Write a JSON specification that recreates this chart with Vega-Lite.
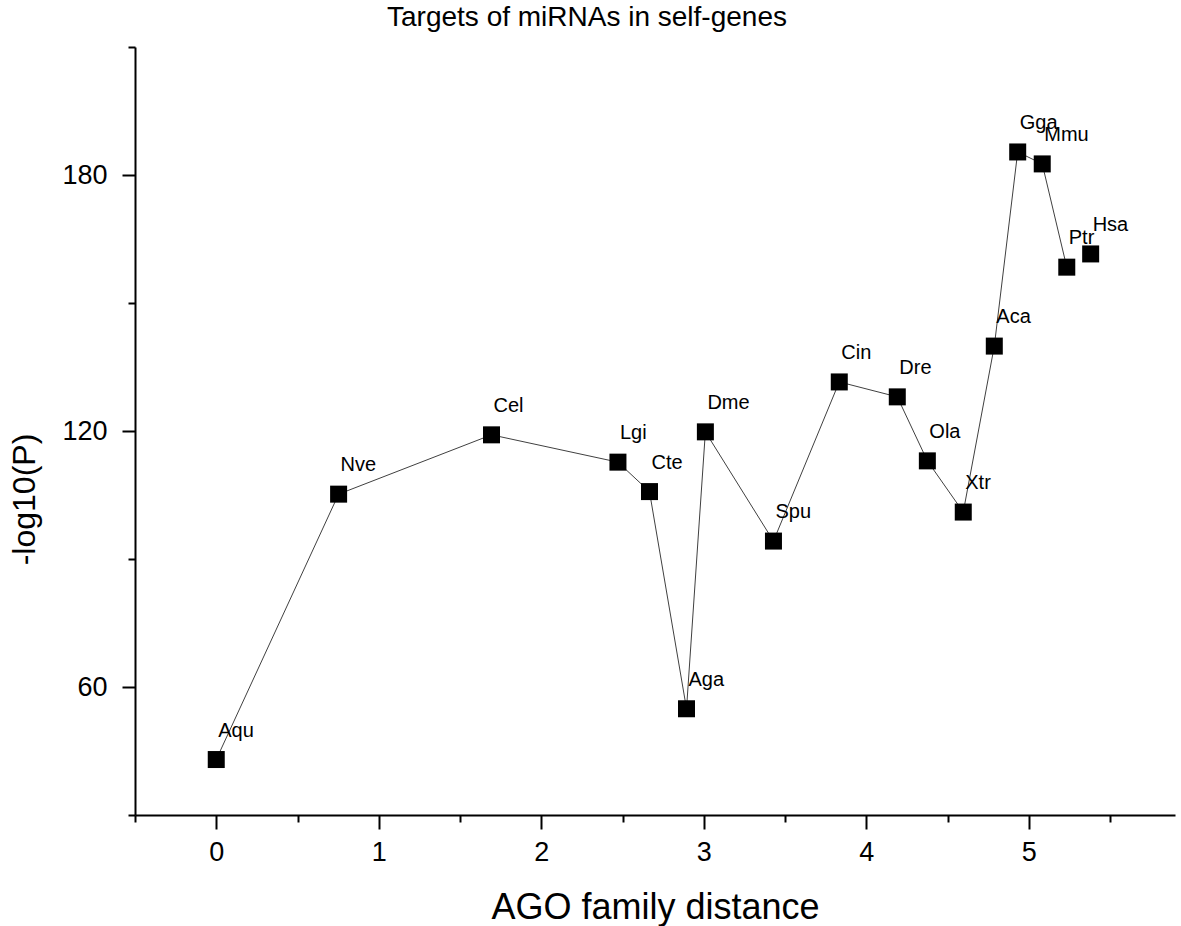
{
  "$schema": "https://vega.github.io/schema/vega-lite/v6.json",
  "width": 1040,
  "height": 768,
  "autosize": {"type": "none"},
  "padding": {"left": 135, "top": 47, "right": 6, "bottom": 111},
  "background": "white",
  "title": {
    "text": "Targets of miRNAs in self-genes",
    "font": "Liberation Sans",
    "fontSize": 28,
    "fontWeight": "normal",
    "color": "black",
    "anchor": "middle",
    "dx": -68,
    "dy": 28,
    "baseline": "alphabetic",
    "offset": 20
  },
  "config": {
    "view": {"stroke": null},
    "font": "Liberation Sans"
  },
  "data": {
    "values": [
      {"species": "Aqu", "distance": 0.0, "logp": 43.0},
      {"species": "Nve", "distance": 0.753, "logp": 105.2},
      {"species": "Cel", "distance": 1.694, "logp": 119.1},
      {"species": "Lgi", "distance": 2.472, "logp": 112.7},
      {"species": "Cte", "distance": 2.666, "logp": 105.8},
      {"species": "Aga", "distance": 2.894, "logp": 54.9},
      {"species": "Dme", "distance": 3.010, "logp": 119.8},
      {"species": "Spu", "distance": 3.429, "logp": 94.2},
      {"species": "Cin", "distance": 3.834, "logp": 131.5},
      {"species": "Dre", "distance": 4.191, "logp": 128.0},
      {"species": "Ola", "distance": 4.376, "logp": 113.0},
      {"species": "Xtr", "distance": 4.597, "logp": 101.0},
      {"species": "Aca", "distance": 4.788, "logp": 139.9},
      {"species": "Gga", "distance": 4.932, "logp": 185.4},
      {"species": "Mmu", "distance": 5.083, "logp": 182.6},
      {"species": "Ptr", "distance": 5.234, "logp": 158.4},
      {"species": "Hsa", "distance": 5.381, "logp": 161.5}
    ]
  },
  "layer": [
    {
      "transform": [{"filter": "datum.species != 'Hsa'"}],
      "mark": {"type": "line", "color": "#404040", "strokeWidth": 1},
      "encoding": {
        "x": {
          "field": "distance", "type": "quantitative",
          "scale": {"domain": [-0.5, 5.9], "nice": false, "zero": false},
          "axis": {
            "title": "AGO family distance",
            "values": [0, 1, 2, 3, 4, 5],
            "format": "d",
            "orient": "bottom",
            "grid": false,
            "domainColor": "black", "domainWidth": 2,
            "tickColor": "black", "tickWidth": 2, "tickSize": 14,
            "labelFont": "Liberation Sans", "labelFontSize": 27, "labelColor": "black",
            "labelPadding": 10,
            "titleFont": "Liberation Sans", "titleFontSize": 36, "titleFontWeight": "normal",
            "titleColor": "black", "titleBaseline": "alphabetic", "titleY": 103
          }
        },
        "y": {
          "field": "logp", "type": "quantitative",
          "scale": {"domain": [30, 210], "nice": false, "zero": false},
          "axis": {
            "title": "-log10(P)",
            "values": [60, 120, 180],
            "orient": "left",
            "grid": false,
            "domainColor": "black", "domainWidth": 2,
            "tickColor": "black", "tickWidth": 2, "tickSize": 13,
            "labelFont": "Liberation Sans", "labelFontSize": 27, "labelColor": "black",
            "labelPadding": 15,
            "titleFont": "Liberation Sans", "titleFontSize": 32, "titleFontWeight": "normal",
            "titleColor": "black", "titleAngle": 270, "titleAlign": "center",
            "titleBaseline": "alphabetic", "titleX": -101, "titleY": 452
          }
        },
        "order": {"field": "distance", "type": "quantitative"}
      }
    },
    {
      "mark": {"type": "square", "filled": true, "color": "black", "size": 289, "opacity": 1},
      "encoding": {
        "x": {
          "field": "distance", "type": "quantitative",
          "axis": {
            "title": null,
            "values": [-0.5, 0.5, 1.5, 2.5, 3.5, 4.5, 5.5],
            "orient": "bottom",
            "labels": false,
            "grid": false,
            "domain": false,
            "tickColor": "black", "tickWidth": 2, "tickSize": 7
          }
        },
        "y": {
          "field": "logp", "type": "quantitative",
          "axis": {
            "title": null,
            "values": [30, 90, 150, 210],
            "orient": "left",
            "labels": false,
            "grid": false,
            "domain": false,
            "tickColor": "black", "tickWidth": 2, "tickSize": 7
          }
        }
      }
    },
    {
      "mark": {
        "type": "text", "align": "left", "baseline": "alphabetic",
        "dx": 2, "dy": -23, "font": "Liberation Sans", "fontSize": 20, "color": "black"
      },
      "encoding": {
        "x": {"field": "distance", "type": "quantitative", "axis": null},
        "y": {"field": "logp", "type": "quantitative", "axis": null},
        "text": {"field": "species", "type": "nominal"}
      }
    }
  ],
  "resolve": {"axis": {"x": "independent", "y": "independent"}}
}
